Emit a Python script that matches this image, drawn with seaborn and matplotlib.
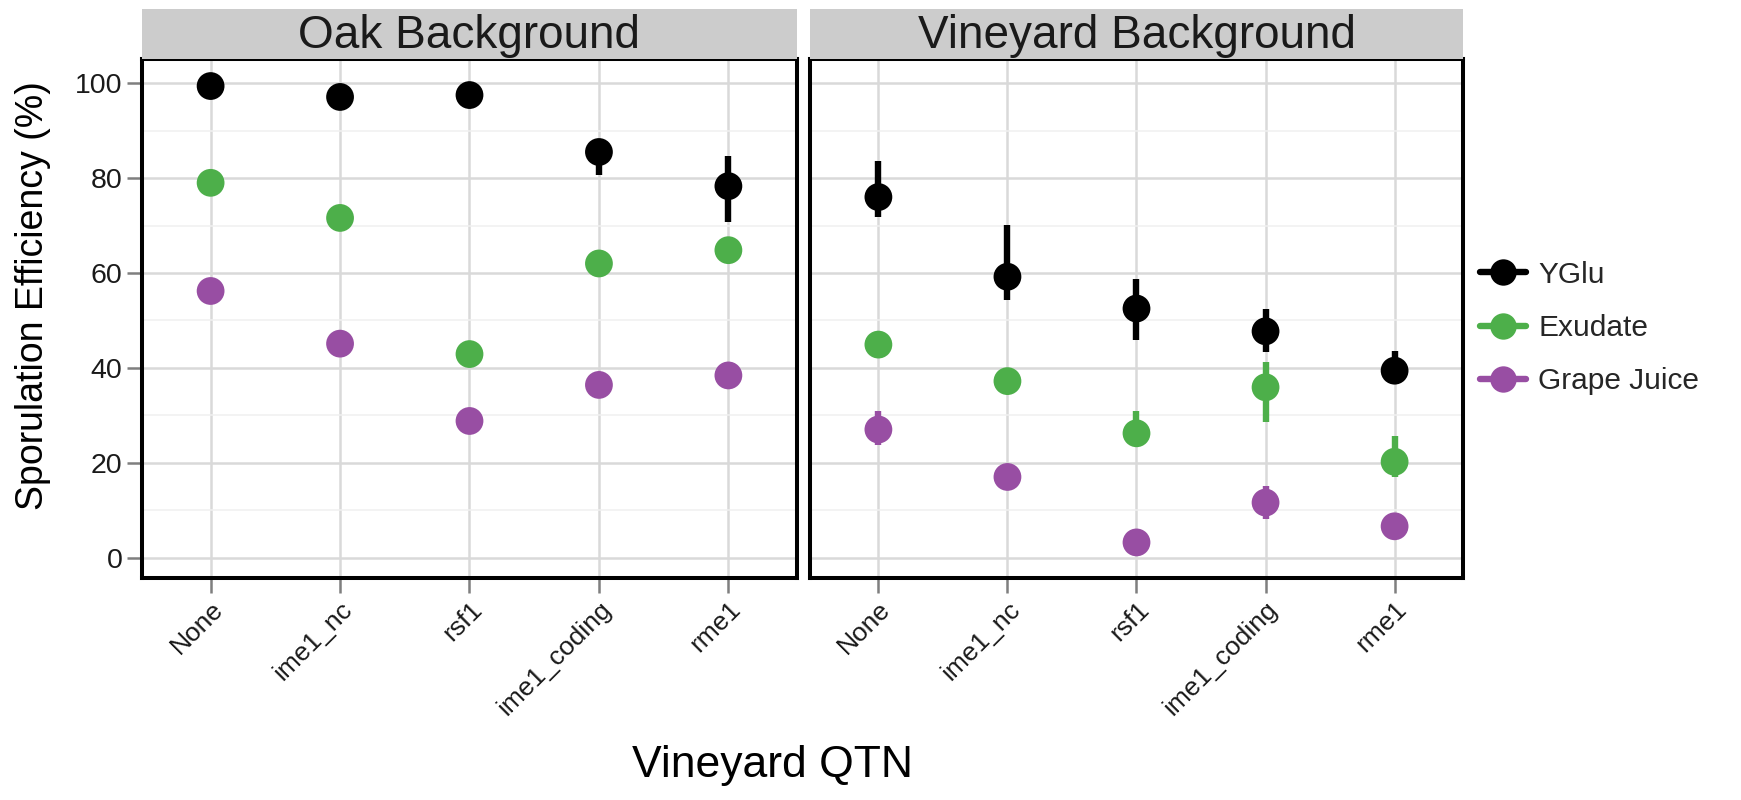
import matplotlib
matplotlib.use("Agg")
import matplotlib.pyplot as plt
from matplotlib.lines import Line2D
import seaborn as sns
import pandas as pd

# ---------------- data ----------------
qtns = ["None", "ime1_nc", "rsf1", "ime1_coding", "rme1"]
backgrounds = ["Oak Background", "Vineyard Background"]
media = ["YGlu", "Exudate", "Grape Juice"]

oak_yglu = [99.4, 97.1, 97.5, 85.5, 78.3]
oak_yglu_lo = [98.6, 96.4, 96.8, 80.7, 70.8]
oak_yglu_hi = [100.0, 97.8, 98.2, 87.0, 84.6]
oak_exudate = [79.0, 71.6, 42.9, 62.0, 64.8]
oak_exudate_lo = [78.2, 70.8, 42.1, 61.2, 64.0]
oak_exudate_hi = [79.8, 72.4, 43.7, 62.8, 65.6]
oak_grape = [56.2, 45.1, 28.8, 36.4, 38.4]
oak_grape_lo = [53.4, 44.3, 28.0, 35.6, 37.6]
oak_grape_hi = [57.4, 45.9, 29.6, 37.2, 39.2]

vin_yglu = [76.0, 59.2, 52.5, 47.7, 39.4]
vin_yglu_lo = [71.9, 54.3, 45.9, 43.4, 36.5]
vin_yglu_hi = [83.5, 70.2, 58.8, 52.3, 43.5]
vin_exudate = [44.9, 37.2, 26.2, 35.9, 20.2]
vin_exudate_lo = [44.1, 36.4, 23.5, 28.6, 17.0]
vin_exudate_hi = [45.7, 38.0, 31.0, 41.2, 25.7]
vin_grape = [27.0, 17.0, 3.2, 11.6, 6.6]
vin_grape_lo = [23.7, 16.2, 2.5, 8.1, 5.6]
vin_grape_hi = [31.0, 17.8, 3.9, 15.1, 7.6]

colors = {"YGlu": "#000000", "Exudate": "#4daf4a", "Grape Juice": "#984ea3"}

rows = []
series = {
    "Oak Background": [(oak_yglu, oak_yglu_lo, oak_yglu_hi),
                       (oak_exudate, oak_exudate_lo, oak_exudate_hi),
                       (oak_grape, oak_grape_lo, oak_grape_hi)],
    "Vineyard Background": [(vin_yglu, vin_yglu_lo, vin_yglu_hi),
                            (vin_exudate, vin_exudate_lo, vin_exudate_hi),
                            (vin_grape, vin_grape_lo, vin_grape_hi)],
}
for bg in backgrounds:
    for m, (v, lo, hi) in zip(media, series[bg]):
        for i, q in enumerate(qtns):
            rows.append(dict(background=bg, medium=m, qtn=q, pos=i,
                             value=v[i], lo=lo[i], hi=hi[i]))
df = pd.DataFrame(rows)

# ---------------- style ----------------
sns.set_theme(style="white")
plt.rcParams["font.family"] = ["Liberation Sans", "DejaVu Sans"]

W, H = 1741, 800
fig = plt.figure(figsize=(W / 100, H / 100), dpi=100)

panels = [(142, 797), (810, 1463)]
ptop, pbot = 59, 578
strip_top = 9

for k, bg in enumerate(backgrounds):
    x0, x1 = panels[k]
    ax = fig.add_axes([x0 / W, 1 - pbot / H, (x1 - x0) / W, (pbot - ptop) / H])
    sub = df[df.background == bg]
    for m in media:
        s = sub[sub.medium == m]
        ax.vlines(s["pos"], s["lo"], s["hi"], colors=colors[m], lw=4.6, zorder=3)
    sns.scatterplot(data=sub, x="pos", y="value", hue="medium", palette=colors,
                    hue_order=media, s=400, edgecolor="none", linewidth=0,
                    legend=False, ax=ax, zorder=4)
    ax.set_xlim(-0.53, 4.53)
    ax.set_ylim(-4.3, 105.1)
    ax.set_xticks(range(len(qtns)))
    ax.set_xticklabels(qtns, rotation=45, ha="right", rotation_mode="anchor",
                       fontsize=19, color="#1a1a1a")
    ax.set_yticks([0, 20, 40, 60, 80, 100])
    ax.set_yticks([10, 30, 50, 70, 90], minor=True)
    ax.grid(True, which="major", color="#d9d9d9", lw=1.8, zorder=0)
    ax.grid(True, which="minor", axis="y", color="#f0f0f0", lw=1.1, zorder=0)
    ax.set_axisbelow(True)
    ax.tick_params(axis="both", which="major", direction="out", length=10.5,
                   width=1.8, color="#7f7f7f", pad=3.5, left=True, bottom=True)
    ax.tick_params(which="minor", length=0)
    if k == 0:
        ax.set_yticklabels(["0", "20", "40", "60", "80", "100"], fontsize=20.5,
                           color="#1a1a1a")
    else:
        ax.tick_params(axis="y", left=False, labelleft=False)
    ax.set_xlabel("")
    ax.set_ylabel("")
    for sp in ax.spines.values():
        sp.set_visible(True)
        sp.set_color("black")
        sp.set_linewidth(2.9)
        sp.set_zorder(5)

    # strip
    sax = fig.add_axes([x0 / W, 1 - ptop / H, (x1 - x0) / W, (ptop - strip_top) / H])
    sax.set_facecolor("#cccccc")
    sax.set_xticks([])
    sax.set_yticks([])
    for sp in sax.spines.values():
        sp.set_visible(False)
    sax.text(0.5, 0.45, bg, ha="center", va="center", fontsize=33,
             color="#1a1a1a", transform=sax.transAxes)

fig.text(33 / W, 1 - 296 / H, "Sporulation Efficiency (%)", rotation=90,
         ha="center", va="center", fontsize=27, color="black")
fig.text(772 / W, 1 - 766 / H, "Vineyard QTN", ha="center", va="center",
         fontsize=32, color="black")

handles = [Line2D([0], [0], color=colors[m], lw=4.6, marker="o", markersize=19,
                  markeredgewidth=0) for m in media]
fig.legend(handles, media, loc="center left",
           bbox_to_anchor=(1480 / W, 1 - 328 / H), frameon=False,
           fontsize=21.5, handlelength=1.55, handletextpad=0.4,
           labelspacing=0.85, borderpad=0, borderaxespad=0)

fig.savefig("out.png", dpi=100, facecolor="white")
